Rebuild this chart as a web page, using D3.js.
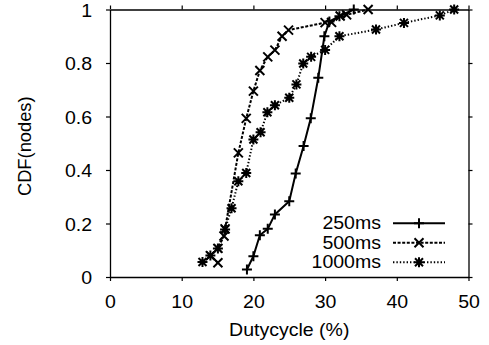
<!DOCTYPE html>
<html>
<head>
<meta charset="utf-8">
<script src="https://cdn.jsdelivr.net/npm/d3@7"></script>
<style>
  body { margin: 0; background: #fff; }
  svg text { font-family: "Liberation Sans", Arial, sans-serif; fill: #000; }
</style>
</head>
<body>
<svg id="chart" width="489" height="345"></svg>
<script>
// CDF points [dutycycle %, fraction of nodes]
const dc250 = [
  [19.1, 0.028], [20.0, 0.078], [20.9, 0.156], [22.0, 0.18], [23.0, 0.234],
  [25.0, 0.283], [25.9, 0.387], [27.0, 0.49], [28.0, 0.593], [29.05, 0.745],
  [29.9, 0.9], [30.6, 0.955], [32.0, 0.975], [34.0, 1.0]
];
const dc500 = [
  [15.05, 0.053], [14.0, 0.08], [15.05, 0.107], [15.9, 0.153], [16.05, 0.18],
  [17.9, 0.464], [19.0, 0.593], [20.0, 0.695], [20.9, 0.772], [22.0, 0.823],
  [23.0, 0.848], [24.0, 0.9], [24.9, 0.923], [30.0, 0.951], [30.9, 0.952],
  [32.1, 0.976], [33.0, 0.98], [36.0, 1.0]
];
const dc1000 = [
  [12.9, 0.056], [14.0, 0.08], [15.05, 0.107], [16.05, 0.178], [16.95, 0.257],
  [17.9, 0.358], [19.0, 0.389], [20.0, 0.514], [21.0, 0.541], [21.95, 0.616],
  [23.0, 0.642], [25.0, 0.67], [26.0, 0.72], [26.95, 0.798], [28.05, 0.823],
  [30.0, 0.849], [32.0, 0.9], [37.1, 0.925], [41.0, 0.95], [46.0, 0.978],
  [48.0, 1.0]
];
const seriesNames = ['250ms', '500ms', '1000ms'];
const xTicks = [0, 10, 20, 30, 40, 50];
const yTicks = [0, 0.2, 0.4, 0.6, 0.8, 1];
const yTickLabels = ['0', '0.2', '0.4', '0.6', '0.8', '1'];

const svg = d3.select('#chart');
const x = d3.scaleLinear().domain([0, 50]).range([110, 468.5]);
const y = d3.scaleLinear().domain([0, 1]).range([277, 9.5]);
const stretch = 'scale(1.11,1)';

const series = [
  { name: seriesNames[0], data: dc250, dash: null, marker: 'plus' },
  { name: seriesNames[1], data: dc500, dash: '3,1.6', marker: 'cross' },
  { name: seriesNames[2], data: dc1000, dash: '1.4,2', marker: 'star' }
];

const markerPath = {
  plus: 'M-5,0H5M0,-5V5',
  cross: 'M-4.5,-4.5L4.5,4.5M-4.5,4.5L4.5,-4.5',
  star: 'M-5,0H5M0,-5V5M-4,-4L4,4M-4,4L4,-4'
};

// axes, ticks point outwards on all four sides
const xAxis = svg.append('g')
  .attr('transform', `translate(0,${y(0)})`)
  .call(d3.axisBottom(x).tickValues(xTicks).tickSizeInner(4).tickSizeOuter(0));
xAxis.selectAll('text')
  .attr('dy', null)
  .attr('y', 30.7)
  .attr('font-size', 17.6)
  .attr('transform', stretch);

const yAxis = svg.append('g')
  .attr('transform', `translate(${x(0)},0)`)
  .call(d3.axisLeft(y).tickValues(yTicks).tickSizeInner(4).tickSizeOuter(0)
    .tickFormat((d, i) => yTickLabels[i]));
yAxis.selectAll('text')
  .attr('dy', null)
  .attr('x', -16.2)
  .attr('y', 6.5)
  .attr('font-size', 17.6)
  .attr('transform', stretch);

svg.append('g')
  .attr('transform', `translate(0,${y(1)})`)
  .call(d3.axisTop(x).tickValues(xTicks).tickSizeInner(4).tickSizeOuter(0).tickFormat(''));
svg.append('g')
  .attr('transform', `translate(${x(50)},0)`)
  .call(d3.axisRight(y).tickValues(yTicks).tickSizeInner(4).tickSizeOuter(0).tickFormat(''));

svg.selectAll('.domain').attr('stroke', '#000').attr('stroke-width', 1.3);
svg.selectAll('.tick line').attr('stroke', '#000').attr('stroke-width', 1.2);

// axis titles
svg.append('text')
  .attr('transform', `translate(${(x(0) + x(50)) / 2},336) ${stretch}`)
  .attr('text-anchor', 'middle')
  .attr('font-size', 17.6)
  .text('Dutycycle (%)');

svg.append('text')
  .attr('transform', `translate(30.5,${(y(0) + y(1)) / 2 + 3}) rotate(-90) scale(1.04,1)`)
  .attr('text-anchor', 'middle')
  .attr('font-size', 17.6)
  .text('CDF(nodes)');

// curves
const line = d3.line().x(d => x(d[0])).y(d => y(d[1]));

series.forEach(s => {
  svg.append('path')
    .datum(s.data)
    .attr('fill', 'none')
    .attr('stroke', '#000')
    .attr('stroke-width', 2)
    .attr('stroke-dasharray', s.dash)
    .attr('d', line);

  svg.append('g').selectAll('path')
    .data(s.data)
    .join('path')
    .attr('transform', d => `translate(${x(d[0])},${y(d[1])})`)
    .attr('d', markerPath[s.marker])
    .attr('fill', 'none')
    .attr('stroke', '#000')
    .attr('stroke-width', 2);
});

// legend
const legend = svg.append('g');
series.forEach((s, i) => {
  const ly = 223.3 + i * 19.5;
  legend.append('text')
    .attr('transform', `translate(381,${ly + 6}) ${stretch}`)
    .attr('text-anchor', 'end')
    .attr('font-size', 17.6)
    .text(s.name);
  legend.append('line')
    .attr('x1', 393).attr('x2', 445)
    .attr('y1', ly).attr('y2', ly)
    .attr('stroke', '#000')
    .attr('stroke-width', 2)
    .attr('stroke-dasharray', s.dash);
  legend.append('path')
    .attr('transform', `translate(419,${ly})`)
    .attr('d', markerPath[s.marker])
    .attr('fill', 'none')
    .attr('stroke', '#000')
    .attr('stroke-width', 2);
});
</script>
</body>
</html>
